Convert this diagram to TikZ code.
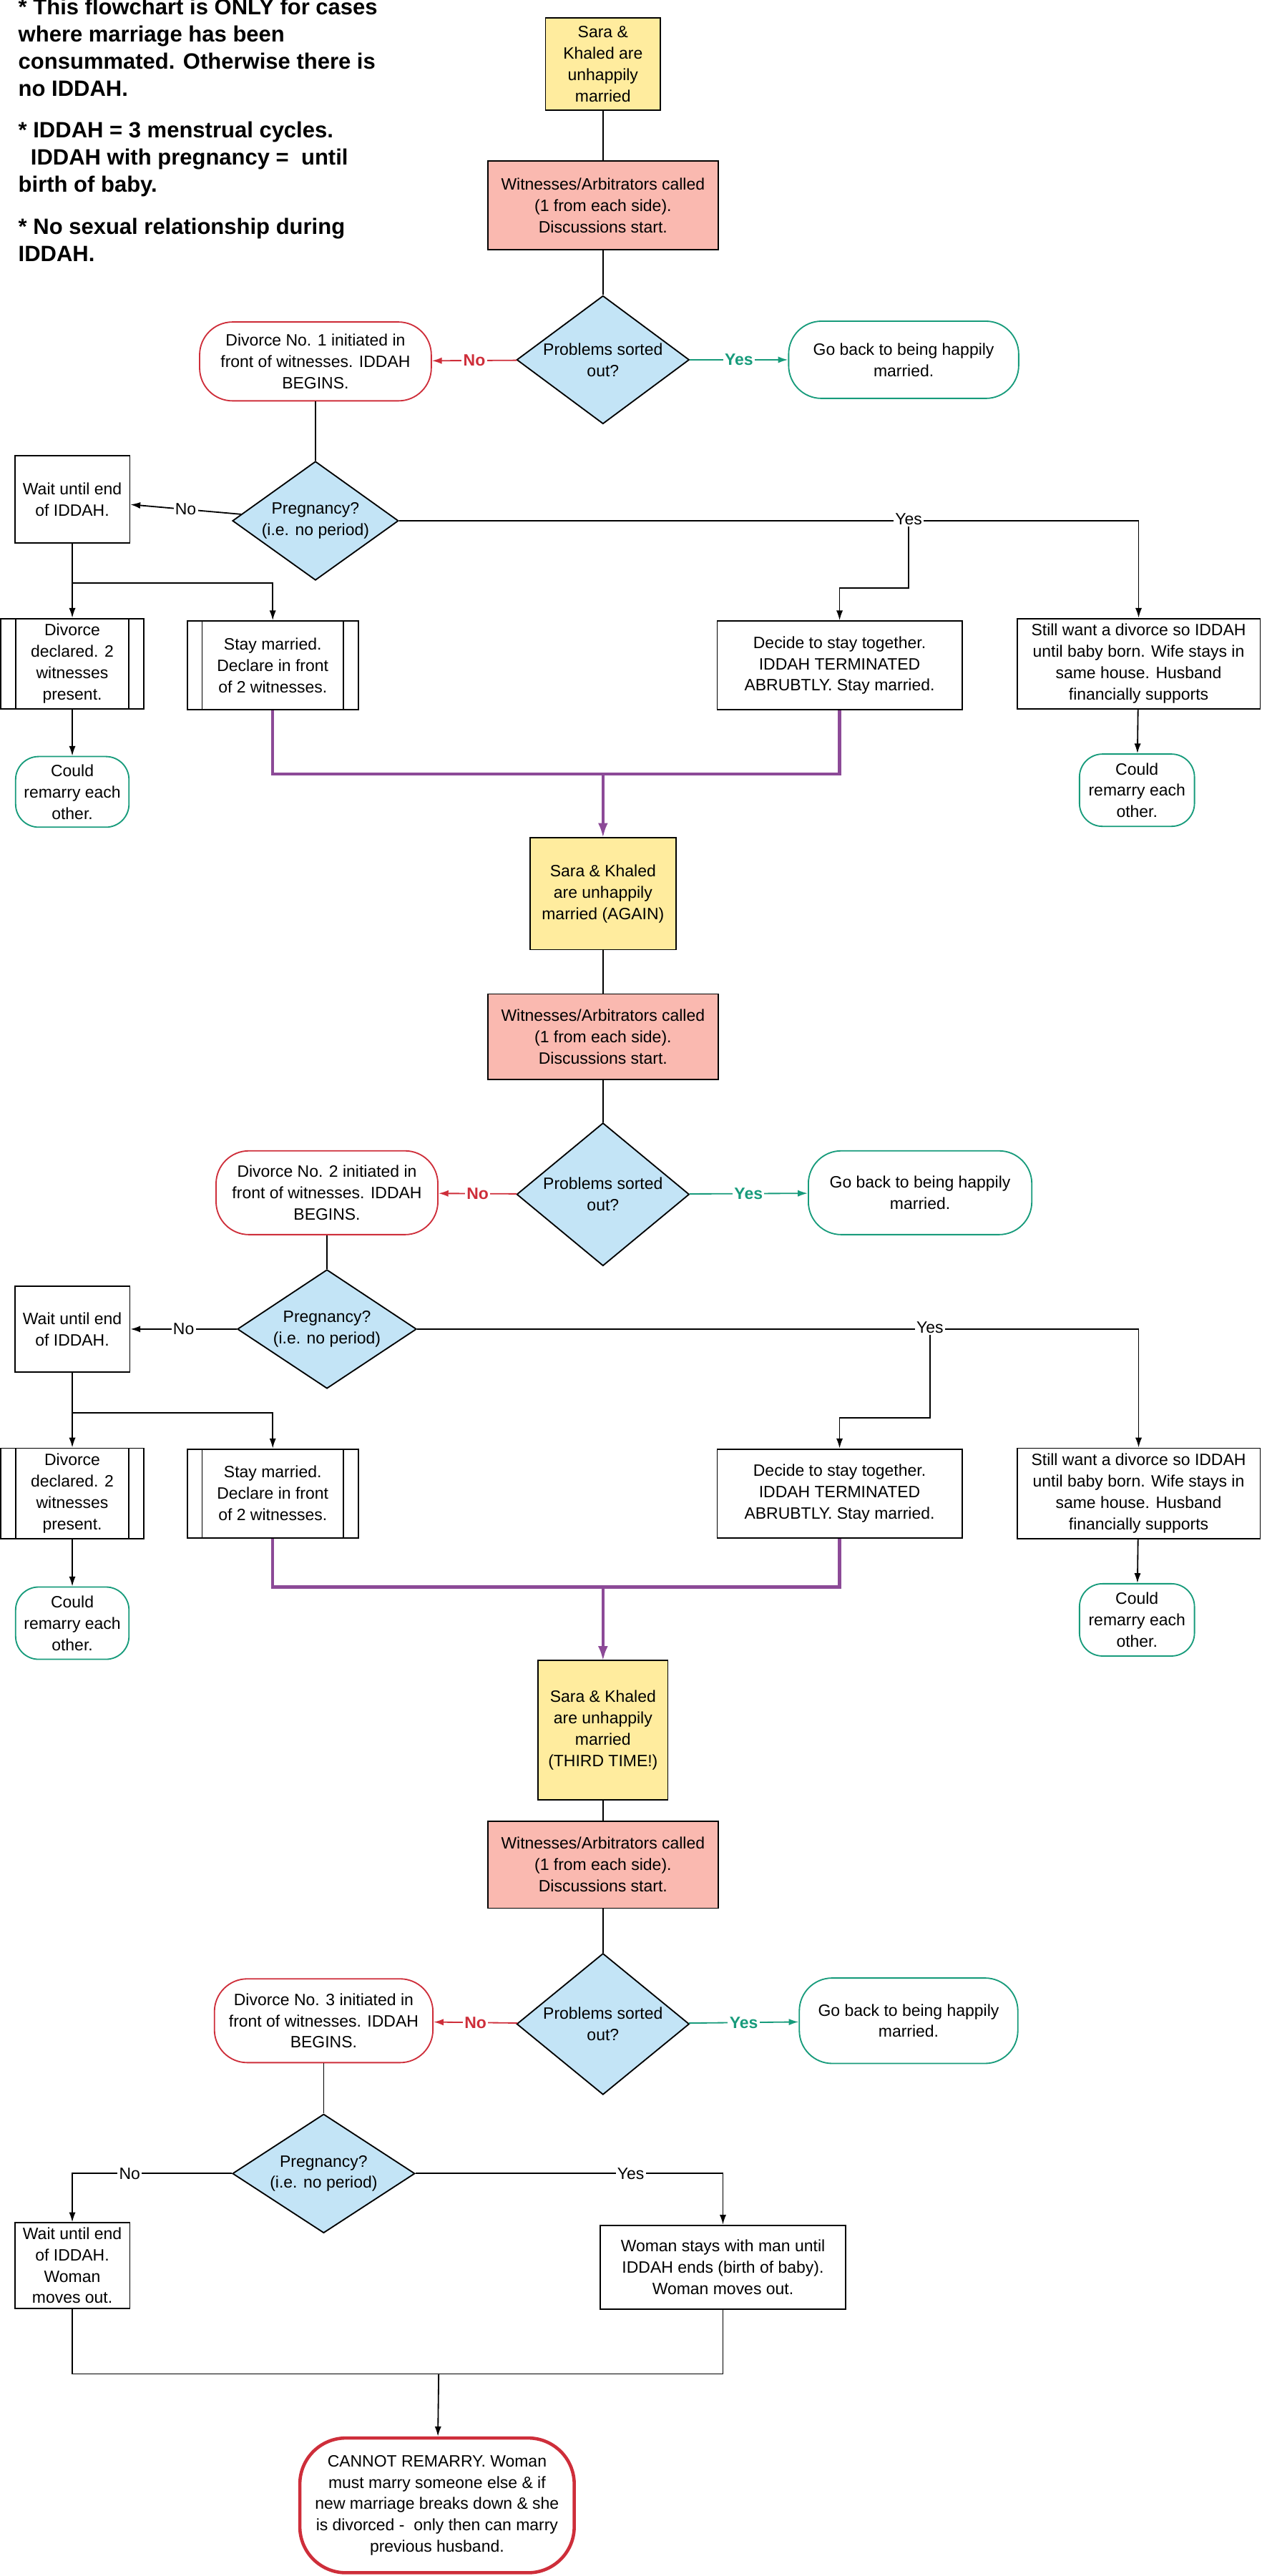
\documentclass[tikz,border=0pt]{standalone}
\usepackage{fontspec}
\setmainfont{Liberation Sans}
\usetikzlibrary{positioning,shapes.geometric,arrows.meta}
\definecolor{startfill}{HTML}{FFEC9E}
\definecolor{witfill}{HTML}{FAB9B0}
\definecolor{askfill}{HTML}{C3E4F6}
\definecolor{nored}{HTML}{CE2E3A}
\definecolor{yesgreen}{HTML}{179B7B}
\definecolor{joinpurple}{HTML}{8C4A97}

\tikzset{
    every node/.style={font=\fontsize{10}{13}\selectfont, align=center, inner sep=0pt},
    box/.style={draw, thick, fill=white},
    start/.style={box, fill=startfill},
    witness/.style={box, fill=witfill},
    ask/.style={draw, thick, diamond, fill=askfill, aspect=1.3},
    divorce/.style={draw, thick, nored, text=black, fill=white, rounded corners=20pt},
    happy/.style={draw, thick, yesgreen, text=black, fill=white, rounded corners=20pt},
    process/.style={box, path picture={
        \draw ([xshift=9pt]path picture bounding box.north west) -- ([xshift=9pt]path picture bounding box.south west);
        \draw ([xshift=-9pt]path picture bounding box.north east) -- ([xshift=-9pt]path picture bounding box.south east);}},
    lab/.style={fill=white, inner sep=1pt},
    nolab/.style={lab, text=nored, font=\fontsize{10}{13}\selectfont\bfseries},
    yeslab/.style={lab, text=yesgreen, font=\fontsize{10}{13}\selectfont\bfseries},
    line/.style={thick},
    arr/.style={thick, -{Latex[length=6pt,width=4pt]}},
    noarr/.style={thick, nored, -{Latex[length=6pt,width=4pt]}},
    yesarr/.style={thick, yesgreen, -{Latex[length=6pt,width=4pt]}},
    purp/.style={line width=1.8pt, joinpurple},
    purparr/.style={purp, -{Latex[length=9pt,width=6pt]}},
}

\begin{document}
\begin{tikzpicture}[x=1pt, y=-1pt]
    \useasboundingbox (0,0) rectangle (768,1568);

    % notes
    \node[anchor=north west, align=left, font=\fontsize{13.5}{16.5}\selectfont\bfseries] (notes) at (11,-1)
        {* This flowchart is ONLY for cases\\ where marriage has been\\ consummated. Otherwise there is\\ no IDDAH.\\[9pt]
         * IDDAH = 3 menstrual cycles.\\ \ \ IDDAH with pregnancy = \ until\\ birth of baby.\\[9pt]
         * No sexual relationship during\\ IDDAH.};

    %% first time
    \node[start, minimum width=70, minimum height=56] (s1) at (367,39) {Sara \&\\ Khaled are\\ unhappily\\ married};
    \node[witness, minimum width=140, minimum height=54] (w1) at (367,125) {Witnesses/Arbitrators called\\ (1 from each side).\\ Discussions start.};
    \node[ask, minimum width=105, minimum height=78] (d1) at (367,219) {Problems sorted\\ out?};
    \node[divorce, minimum width=141, minimum height=48] (div1) at (192,220) {Divorce No. 1 initiated in\\ front of witnesses. IDDAH\\ BEGINS.};
    \node[happy, minimum width=140, minimum height=47] (go1) at (550,219) {Go back to being happily\\ married.};
    \node[ask, minimum width=101, minimum height=68] (p1) at (192,317) {Pregnancy?\\ (i.e. no period)};
    \node[box, minimum width=70, minimum height=53] (wait1) at (44,304) {Wait until end\\ of IDDAH.};
    \node[process, minimum width=87, minimum height=55] (divd1) at (44,404) {Divorce\\ declared. 2\\ witnesses\\ present.};
    \node[process, minimum width=104, minimum height=54] (stay1) at (166,405) {Stay married.\\ Declare in front\\ of 2 witnesses.};
    \node[box, minimum width=149, minimum height=54] (decide1) at (511,405) {Decide to stay together.\\ IDDAH TERMINATED\\ ABRUBTLY. Stay married.};
    \node[box, minimum width=148, minimum height=55] (still1) at (693,404) {Still want a divorce so IDDAH\\ until baby born. Wife stays in\\ same house. Husband\\ financially supports};
    \node[happy, rounded corners=14pt, minimum width=69, minimum height=43] (could1) at (44,482) {Could\\ remarry each\\ other.};
    \node[happy, rounded corners=14pt, minimum width=70, minimum height=44] (could2) at (692,481) {Could\\ remarry each\\ other.};

    \draw[line] (s1) -- (w1);
    \draw[line] (w1) -- (d1);
    \draw[noarr] (d1) -- node[nolab] {No} (div1);
    \draw[yesarr] (d1) -- node[yeslab] {Yes} (go1);
    \draw[line] (div1) -- (p1);
    \draw[arr] (p1) -- node[lab] {No} (wait1);
    \draw[arr] (p1) -| (still1);
    \node[lab] (yes1) at (553,316) {Yes};
    \coordinate (k1) at (553,358);
    \draw[arr] (yes1) -- (k1) -| (decide1);
    \draw[arr] (wait1) -- (divd1);
    \coordinate (j1) at (44,355);
    \draw[arr] (j1) -| (stay1);
    \draw[arr] (divd1) -- (could1);
    \draw[arr] (still1) -- (could2);
    \coordinate (m1) at (367,471);
    \draw[purp] (stay1.south) |- (m1) -| (decide1.south);
    \draw[purparr] (m1) -- (367,510);

    %% second time
    \node[start, minimum width=89, minimum height=68] (s2) at (367,544) {Sara \& Khaled\\ are unhappily\\ married (AGAIN)};
    \node[witness, minimum width=140, minimum height=52] (w2) at (367,631) {Witnesses/Arbitrators called\\ (1 from each side).\\ Discussions start.};
    \node[ask, minimum width=105, minimum height=87] (d2) at (367,727) {Problems sorted\\ out?};
    \node[divorce, minimum width=135, minimum height=51] (div2) at (199,726) {Divorce No. 2 initiated in\\ front of witnesses. IDDAH\\ BEGINS.};
    \node[happy, minimum width=136, minimum height=51] (go2) at (560,726) {Go back to being happily\\ married.};
    \node[ask, minimum width=109, minimum height=62] (p2) at (199,809) {Pregnancy?\\ (i.e. no period)};
    \node[box, minimum width=70, minimum height=52] (wait2) at (44,809) {Wait until end\\ of IDDAH.};
    \node[process, minimum width=87, minimum height=55] (divd2) at (44,909) {Divorce\\ declared. 2\\ witnesses\\ present.};
    \node[process, minimum width=104, minimum height=54] (stay2) at (166,909) {Stay married.\\ Declare in front\\ of 2 witnesses.};
    \node[box, minimum width=149, minimum height=54] (decide2) at (511,909) {Decide to stay together.\\ IDDAH TERMINATED\\ ABRUBTLY. Stay married.};
    \node[box, minimum width=148, minimum height=55] (still2) at (693,909) {Still want a divorce so IDDAH\\ until baby born. Wife stays in\\ same house. Husband\\ financially supports};
    \node[happy, rounded corners=14pt, minimum width=69, minimum height=44] (could3) at (44,988) {Could\\ remarry each\\ other.};
    \node[happy, rounded corners=14pt, minimum width=70, minimum height=44] (could4) at (692,986) {Could\\ remarry each\\ other.};

    \draw[line] (s2) -- (w2);
    \draw[line] (w2) -- (d2);
    \draw[noarr] (d2) -- node[nolab] {No} (div2);
    \draw[yesarr] (d2) -- node[yeslab] {Yes} (go2);
    \draw[line] (div2) -- (p2);
    \draw[arr] (p2) -- node[lab] {No} (wait2);
    \draw[arr] (p2) -| (still2);
    \node[lab] (yes2) at (566,808) {Yes};
    \coordinate (k2) at (566,863);
    \draw[arr] (yes2) -- (k2) -| (decide2);
    \draw[arr] (wait2) -- (divd2);
    \coordinate (j2) at (44,860);
    \draw[arr] (j2) -| (stay2);
    \draw[arr] (divd2) -- (could3);
    \draw[arr] (still2) -- (could4);
    \coordinate (m2) at (367,966);
    \draw[purp] (stay2.south) |- (m2) -| (decide2.south);
    \draw[purparr] (m2) -- (367,1011);

    %% third time
    \node[start, minimum width=79, minimum height=85] (s3) at (367,1053) {Sara \& Khaled\\ are unhappily\\ married\\ (THIRD TIME!)};
    \node[witness, minimum width=140, minimum height=53] (w3) at (367,1135) {Witnesses/Arbitrators called\\ (1 from each side).\\ Discussions start.};
    \node[ask, minimum width=105, minimum height=86] (d3) at (367,1232) {Problems sorted\\ out?};
    \node[divorce, minimum width=133, minimum height=51] (div3) at (197,1230) {Divorce No. 3 initiated in\\ front of witnesses. IDDAH\\ BEGINS.};
    \node[happy, minimum width=133, minimum height=52] (go3) at (553,1230) {Go back to being happily\\ married.};
    \node[ask, minimum width=111, minimum height=61] (p3) at (197,1323) {Pregnancy?\\ (i.e. no period)};
    \node[box, minimum width=70, minimum height=52] (wait3) at (44,1379) {Wait until end\\ of IDDAH.\\ Woman\\ moves out.};
    \node[box, minimum width=149, minimum height=51] (woman3) at (440,1380) {Woman stays with man until\\ IDDAH ends (birth of baby).\\ Woman moves out.};
    \node[draw, line width=2pt, nored, text=black, fill=white, rounded corners=28pt, minimum width=167, minimum height=82] (cannot) at (266,1525)
        {CANNOT REMARRY. Woman\\ must marry someone else \& if\\ new marriage breaks down \& she\\ is divorced - \ only then can marry\\ previous husband.};

    \draw[line] (s3) -- (w3);
    \draw[line] (w3) -- (d3);
    \draw[noarr] (d3) -- node[nolab] {No} (div3);
    \draw[yesarr] (d3) -- node[yeslab] {Yes} (go3);
    \draw[line] (div3) -- (p3);
    \draw[arr] (p3) -| node[lab, pos=0.32] {No} (wait3);
    \draw[arr] (p3) -| node[lab, pos=0.35] {Yes} (woman3);
    \coordinate (m3) at (267,1445);
    \draw[line] (wait3.south) |- (woman3.south |- m3) -- (woman3.south);
    \draw[arr] (m3) -- (cannot);
\end{tikzpicture}
\end{document}
